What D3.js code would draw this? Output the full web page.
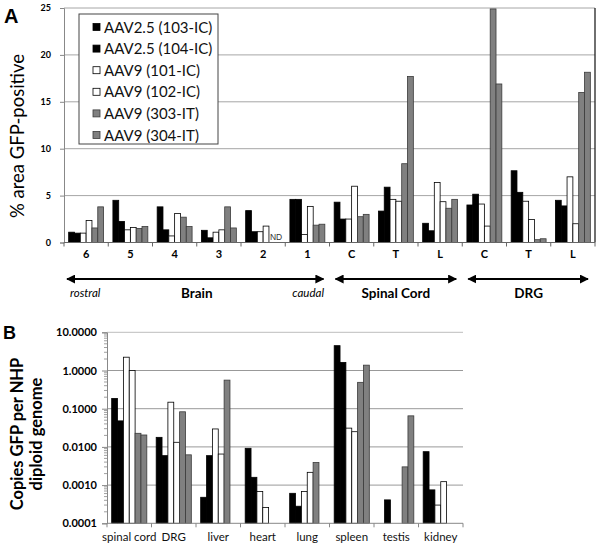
<!DOCTYPE html>
<html>
<head>
<meta charset="utf-8">
<script src="https://cdn.jsdelivr.net/npm/d3@7"></script>
<style>
  html, body { margin: 0; padding: 0; background: #fff; }
  svg { display: block; font-family: Lato, "Open Sans", sans-serif; }
</style>
</head>
<body>
<svg id="chart" width="600" height="550"></svg>
<script>
// ---------- Panel A data ----------
const categoriesA = ["6", "5", "4", "3", "2", "1", "C", "T", "L", "C", "T", "L"];
const seriesNames = ["AAV2.5 (103-IC)", "AAV2.5 (104-IC)", "AAV9 (101-IC)", "AAV9 (102-IC)", "AAV9 (303-IT)", "AAV9 (304-IT)"];
const seriesFill = ["#000000", "#000000", "#ffffff", "#ffffff", "#808080", "#808080"];
const a103 = [1.1, 4.5, 3.8, 1.3, 3.4, 4.6, 4.3, 3.35, 2.05, 4.0, 7.65, 4.5];
const a104 = [1.0, 2.25, 1.35, 0.5, 1.15, 4.6, 2.5, 5.9, 1.25, 5.15, 5.35, 3.9];
const a101 = [1.0, 1.35, 0.7, 1.1, 1.15, 0.85, 2.5, 4.6, 6.4, 4.1, 4.4, 7.0];
const a102 = [2.35, 1.6, 3.1, 1.35, 1.75, 3.85, 6.0, 4.4, 4.35, 1.75, 2.45, 2.0];
const a303 = [1.55, 1.5, 2.7, 3.8, null, 1.85, 2.75, 8.4, 3.65, 24.9, 0.3, 16.0];
const a304 = [3.8, 1.7, 1.7, 1.55, null, 1.95, 3.0, 17.7, 4.6, 16.9, 0.4, 18.15];
const ticksA = [0, 5, 10, 15, 20, 25];
const groupsA = [
  { label: "Brain", from: 0, to: 6 },
  { label: "Spinal Cord", from: 6, to: 9 },
  { label: "DRG", from: 9, to: 12 }
];

// ---------- Panel B data ----------
const categoriesB = ["spinal cord", "DRG", "liver", "heart", "lung", "spleen", "testis", "kidney"];
const b103 = [0.186, 0.0178, 0.00048, 0.0092, 0.00061, 4.47, null, 0.0075];
const b104 = [0.048, 0.0059, 0.0059, 0.0016, 0.00028, 1.63, 0.00041, 0.00075];
const b101 = [2.23, 0.148, 0.0295, 0.00068, 0.00068, 0.031, null, 0.0003];
const b102 = [1.0, 0.0132, 0.0065, 0.00026, 0.00216, 0.025, null, 0.00123];
const b303 = [0.0227, 0.083, 0.56, null, 0.0039, 0.49, 0.0030, null];
const b304 = [0.0205, 0.0062, null, null, null, 1.38, 0.065, null];
const ticksB = [0.0001, 0.001, 0.01, 0.1, 1, 10];

const svg = d3.select("#chart");
const defs = svg.append("defs");
defs.append("marker").attr("id", "ahEnd").attr("viewBox", "0 0 10 10")
  .attr("refX", 9).attr("refY", 5).attr("markerWidth", 4.5).attr("markerHeight", 4.5)
  .attr("markerUnits", "strokeWidth").attr("orient", "auto")
  .append("path").attr("d", "M0,0 L10,5 L0,10 Z").attr("fill", "#000");
defs.append("marker").attr("id", "ahStart").attr("viewBox", "0 0 10 10")
  .attr("refX", 1).attr("refY", 5).attr("markerWidth", 4.5).attr("markerHeight", 4.5)
  .attr("markerUnits", "strokeWidth").attr("orient", "auto")
  .append("path").attr("d", "M10,0 L0,5 L10,10 Z").attr("fill", "#000");

function strokeFor(i) { return i >= 4 ? "#3a3a3a" : "#000"; }

// ================= Panel A =================
(function () {
  const L = 64, R = 595, T = 8, B = 242.5;
  const seriesA = [a103, a104, a101, a102, a303, a304];
  const x0 = d3.scaleBand().domain(d3.range(categoriesA.length)).range([L, R]).padding(0);
  const x1 = d3.scaleBand().domain(d3.range(6)).range([0, x0.bandwidth()]).paddingOuter(0.8).paddingInner(0);
  const y = d3.scaleLinear().domain([0, 25]).range([B, T]);
  const g = svg.append("g");

  g.selectAll("line.grid").data(ticksA.filter(d => d > 0)).enter().append("line")
    .attr("x1", L).attr("x2", R).attr("y1", d => y(d)).attr("y2", d => y(d))
    .attr("stroke", "#a6a6a6").attr("stroke-width", 1);

  g.append("line").attr("x1", R).attr("x2", R).attr("y1", T).attr("y2", B)
    .attr("stroke", "#222").attr("stroke-width", 1.3);

  seriesA.forEach((vals, si) => {
    g.selectAll(null).data(vals.map((v, ci) => ({ v, ci }))).enter()
      .filter(d => d.v !== null)
      .append("rect")
      .attr("x", d => x0(d.ci) + x1(si))
      .attr("width", x1.bandwidth())
      .attr("y", d => y(d.v))
      .attr("height", d => y(0) - y(d.v))
      .attr("fill", seriesFill[si]).attr("stroke", strokeFor(si)).attr("stroke-width", 0.8);
  });

  g.append("text").attr("x", x0(4) + x1(4) + 1).attr("y", y(0) - 3)
    .attr("font-size", 8.5).attr("fill", "#333").attr("font-family", "Liberation Sans, Arial, sans-serif").text("ND");

  const yAxis = d3.axisLeft(y).tickValues(ticksA).tickSize(4).tickFormat(d3.format("d"));
  const ya = g.append("g").attr("transform", `translate(${L},0)`).call(yAxis);
  ya.select(".domain").attr("stroke", "#888");
  ya.selectAll(".tick line").attr("stroke", "#888");
  ya.selectAll(".tick text").attr("font-size", 9).attr("font-weight", "bold")
    .attr("font-family", "Lato, sans-serif").attr("fill", "#000").attr("x", -13);

  const xa = g.append("g").attr("transform", `translate(0,${B})`);
  xa.append("line").attr("x1", L).attr("x2", R).attr("stroke", "#666");
  xa.selectAll("line.tk").data(d3.range(categoriesA.length + 1)).enter().append("line")
    .attr("x1", i => L + i * x0.step()).attr("x2", i => L + i * x0.step())
    .attr("y1", 0).attr("y2", 4).attr("stroke", "#666");
  xa.selectAll("text").data(categoriesA).enter().append("text")
    .attr("x", (d, i) => x0(i) + x0.bandwidth() / 2).attr("y", 15)
    .attr("text-anchor", "middle").attr("font-size", 11).attr("font-weight", "bold").text(d => d);

  const ay = 279;
  groupsA.forEach((gr, k) => {
    const xs = x0(gr.from) + (k === 0 ? -1 : 2), xe = x0(gr.to - 1) + x0.bandwidth() - (k === 2 ? 3 : 2);
    g.append("line").attr("x1", xs + 4).attr("x2", xe - 4).attr("y1", ay).attr("y2", ay)
      .attr("stroke", "#000").attr("stroke-width", 2)
      .attr("marker-start", "url(#ahStart)").attr("marker-end", "url(#ahEnd)");
    g.append("text").attr("x", (x0(gr.from) + x0(gr.to - 1) + x0.bandwidth()) / 2).attr("y", 298)
      .attr("text-anchor", "middle").attr("font-size", 13.5).attr("font-weight", "bold").text(gr.label);
  });
  g.append("text").attr("x", 70).attr("y", 297).attr("font-size", 11.5).attr("font-style", "italic").text("rostral");
  g.append("text").attr("x", 324).attr("y", 297).attr("text-anchor", "end").attr("font-size", 11.5).attr("font-style", "italic").text("caudal");

  svg.append("text").attr("transform", "translate(24,136) rotate(-90)").attr("text-anchor", "middle")
    .attr("font-size", 18.5).text("% area GFP-positive");
  svg.append("text").attr("x", 4).attr("y", 23).attr("font-size", 20).attr("font-weight", "bold")
    .attr("font-family", "Liberation Sans, Arial, sans-serif").text("A");

  const lg = svg.append("g");
  lg.append("rect").attr("x", 79).attr("y", 14).attr("width", 139).attr("height", 130)
    .attr("fill", "#fff").attr("stroke", "#444").attr("stroke-width", 1);
  seriesNames.forEach((n, i) => {
    const cy = 27 + i * 21.6;
    lg.append("rect").attr("x", 93).attr("y", cy - 3.5).attr("width", 7).attr("height", 7)
      .attr("fill", seriesFill[i]).attr("stroke", strokeFor(i)).attr("stroke-width", 0.8);
    lg.append("text").attr("x", 104).attr("y", cy + 5.5).attr("font-size", 15).attr("fill", "#111").text(n);
  });
})();

// ================= Panel B =================
(function () {
  const L = 107, R = 463, T = 332.3, B = 523.3;
  const seriesB = [b103, b104, b101, b102, b303, b304];
  const x0 = d3.scaleBand().domain(d3.range(categoriesB.length)).range([L, R]).padding(0);
  const x1 = d3.scaleBand().domain(d3.range(6)).range([0, x0.bandwidth()]).paddingOuter(0.8).paddingInner(0);
  const y = d3.scaleLog().domain([0.0001, 10]).range([B, T]);
  const g = svg.append("g");

  g.selectAll("line.grid").data(ticksB.filter(d => d > 0.0001)).enter().append("line")
    .attr("x1", L).attr("x2", R).attr("y1", d => y(d)).attr("y2", d => y(d))
    .attr("stroke", d => d === 10 ? "#bdbdbd" : "#999").attr("stroke-width", 1);

  seriesB.forEach((vals, si) => {
    g.selectAll(null).data(vals.map((v, ci) => ({ v, ci }))).enter()
      .filter(d => d.v !== null)
      .append("rect")
      .attr("x", d => x0(d.ci) + x1(si))
      .attr("width", x1.bandwidth())
      .attr("y", d => y(d.v))
      .attr("height", d => B - y(d.v))
      .attr("fill", seriesFill[si]).attr("stroke", strokeFor(si)).attr("stroke-width", 0.8);
  });

  const minor = [];
  for (let e = -4; e < 1; e++) for (let m = 2; m <= 9; m++) minor.push(m * Math.pow(10, e));
  g.selectAll("line.minor").data(minor).enter().append("line")
    .attr("x1", L - 3).attr("x2", L).attr("y1", d => y(d)).attr("y2", d => y(d))
    .attr("stroke", "#888").attr("stroke-width", 0.8);
  const yAxis = d3.axisLeft(y).tickValues(ticksB).tickSize(5).tickFormat(d3.format(".4f"));
  const ya = g.append("g").attr("transform", `translate(${L},0)`).call(yAxis);
  ya.select(".domain").attr("stroke", "#888");
  ya.selectAll(".tick line").attr("stroke", "#888");
  ya.selectAll(".tick text").attr("font-size", 11).attr("font-weight", "bold")
    .attr("font-family", "Lato, sans-serif").attr("fill", "#000").attr("x", -10);

  const xa = g.append("g").attr("transform", `translate(0,${B})`);
  xa.append("line").attr("x1", L).attr("x2", R).attr("stroke", "#888");
  xa.selectAll("line.tk").data(d3.range(categoriesB.length + 1)).enter().append("line")
    .attr("x1", i => L + i * x0.step()).attr("x2", i => L + i * x0.step())
    .attr("y1", 0).attr("y2", 4).attr("stroke", "#888");
  xa.selectAll("text").data(categoriesB).enter().append("text")
    .attr("x", (d, i) => x0(i) + x0.bandwidth() / 2).attr("y", 18)
    .attr("text-anchor", "middle").attr("font-size", 11.5).attr("fill", "#111").text(d => d);

  svg.append("text").attr("transform", "translate(17,434) rotate(-90)").attr("text-anchor", "middle")
    .attr("dy", "0.35em").attr("font-size", 16.5).attr("font-weight", "bold").text("Copies GFP per NHP");
  svg.append("text").attr("transform", "translate(36,434) rotate(-90)").attr("text-anchor", "middle")
    .attr("dy", "0.35em").attr("font-size", 16.5).attr("font-weight", "bold").text("diploid genome");
  svg.append("text").attr("x", 3).attr("y", 339).attr("font-size", 18).attr("font-weight", "bold")
    .attr("font-family", "Liberation Sans, Arial, sans-serif").text("B");
})();
</script>
</body>
</html>
